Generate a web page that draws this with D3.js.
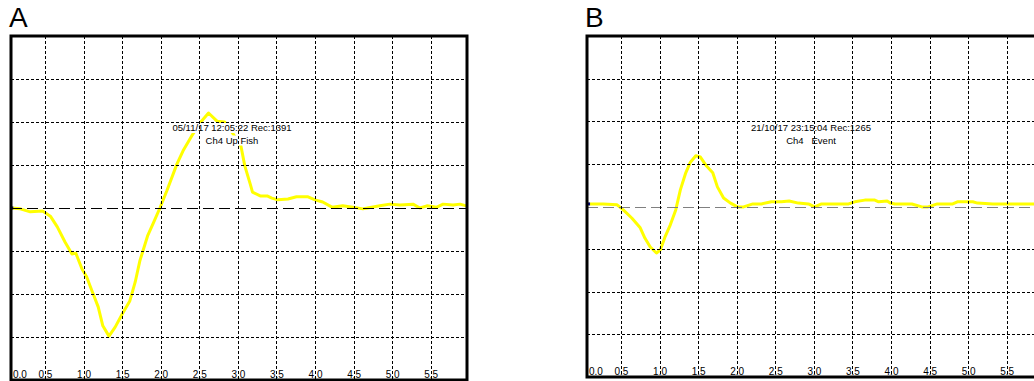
<!DOCTYPE html>
<html>
<head>
<meta charset="utf-8">
<script src="https://cdn.jsdelivr.net/npm/d3@7"></script>
<style>
body { margin: 0; background: #fff; }
svg { display: block; }
text { font-family: "Liberation Sans", Arial, sans-serif; }
</style>
</head>
<body>
<svg width="1034" height="381"></svg>
<script>
// tick labels of the time axis (s)
const xTicks = [0.0, 0.5, 1.0, 1.5, 2.0, 2.5, 3.0, 3.5, 4.0, 4.5, 5.0, 5.5];
// horizontal grid divisions
const yTicks = [-3, -2, -1, 0, 1, 2, 3];

// trace A
const timeA = [0.07, 0.18, 0.31, 0.47, 0.57, 0.66, 0.76, 0.85, 0.90, 0.98, 1.04, 1.11, 1.19, 1.25, 1.33, 1.41,
	1.50, 1.60, 1.67, 1.73, 1.83, 1.91, 1.99, 2.08, 2.21, 2.29, 2.40, 2.52, 2.62, 2.73, 2.83, 2.94,
	3.04, 3.09, 3.16, 3.19, 3.29, 3.38, 3.44, 3.52, 3.65, 3.76, 3.91, 4.00, 4.10, 4.22, 4.36, 4.49,
	4.62, 4.68, 4.84, 4.97, 5.10, 5.27, 5.36, 5.45, 5.58, 5.66, 5.79, 5.88, 5.96];
const valueA = [0.00, -0.02, -0.09, -0.07, -0.19, -0.44, -0.79, -1.07, -1.05, -1.42, -1.60, -1.93, -2.30, -2.74, -2.98, -2.77,
	-2.47, -2.16, -1.72, -1.23, -0.65, -0.33, 0.00, 0.40, 1.02, 1.33, 1.67, 2.00, 2.21, 2.02, 2.00, 1.72,
	1.44, 0.98, 0.56, 0.37, 0.28, 0.28, 0.23, 0.19, 0.21, 0.26, 0.26, 0.19, 0.14, 0.02, 0.05, 0.02,
	-0.02, 0.00, 0.05, 0.09, 0.07, 0.09, 0.00, 0.05, 0.02, 0.09, 0.07, 0.09, 0.05];
const labelA = ["05/11/17 12:05:22 Rec:1391", "Ch4 Up Fish"];

// trace B
const timeB = [0.08, 0.27, 0.45, 0.53, 0.64, 0.75, 0.81, 0.88, 0.96, 1.01, 1.07, 1.14, 1.21, 1.27, 1.34, 1.40,
	1.47, 1.53, 1.60, 1.69, 1.75, 1.83, 1.92, 2.01, 2.09, 2.21, 2.32, 2.45, 2.58, 2.68, 2.80, 2.93,
	3.01, 3.10, 3.45, 3.53, 3.66, 3.79, 3.84, 3.95, 3.99, 4.05, 4.27, 4.40, 4.48, 4.60, 4.80, 4.86,
	5.06, 5.12, 5.32, 5.58, 5.96];
const valueB = [0.06, 0.06, 0.04, -0.08, -0.27, -0.50, -0.74, -0.95, -1.09, -1.02, -0.72, -0.43, -0.08, 0.39, 0.79, 1.04,
	1.19, 1.16, 0.97, 0.79, 0.46, 0.20, 0.08, -0.01, -0.01, 0.06, 0.06, 0.11, 0.11, 0.13, 0.08, 0.06,
	-0.01, 0.06, 0.06, 0.11, 0.15, 0.15, 0.11, 0.13, 0.08, 0.06, 0.06, -0.01, -0.01, 0.06, 0.06, 0.11,
	0.11, 0.08, 0.06, 0.06, 0.06];
const labelB = ["21/10/17 23:15:04 Rec:1265", "Ch4   Event"];

const svg = d3.select('svg');

function drawPanel(title, times, values, notes, box) {
	svg.append('text')
		.attr('x', box.left - 2)
		.attr('y', 27)
		.attr('font-size', '28px')
		.text(title);

	const g = svg.append('g').attr('transform', `translate(${box.left},${box.top})`);

	const x = d3.scaleLinear().domain([0.06, 5.97]).range([0, box.width]);
	const y = d3.scaleLinear().domain([-4, 4]).range([box.height, 0]);

	g.append('clipPath').attr('id', 'clip' + title)
		.append('rect').attr('width', box.width).attr('height', box.height);

	const pts = times.map((t, i) => [t, values[i]]);
	const line = d3.line().x(d => x(d[0])).y(d => y(d[1]));

	// trace
	g.append('path')
		.attr('clip-path', `url(#clip${title})`)
		.attr('d', line(pts))
		.style('fill', 'none')
		.style('stroke', '#ffff00')
		.style('stroke-width', 3)
		.style('stroke-linejoin', 'round');

	g.append('rect')
		.attr('x', x(pts[0][0]) - 1.5)
		.attr('y', y(pts[0][1]) - 1.5)
		.attr('width', 3)
		.attr('height', 3)
		.style('fill', '#000080');

	// annotation, opaque background like the recorder software
	notes.forEach((s, i) => {
		const t = g.append('text')
			.attr('x', box.noteX)
			.attr('y', box.noteY + i * 12.5)
			.attr('text-anchor', 'middle')
			.attr('font-size', '9.5px')
			.style('white-space', 'pre')
			.text(s);
		const bb = t.node().getBBox();
		g.insert('rect', () => t.node())
			.attr('x', bb.x)
			.attr('y', bb.y + 1)
			.attr('width', bb.width)
			.attr('height', bb.height - 1)
			.style('fill', '#fff');
	});

	// grid on top of the trace
	g.selectAll('.hgrid')
		.data(yTicks)
		.enter()
		.append('line')
		.attr('x1', 0)
		.attr('x2', box.width)
		.attr('y1', d => Math.round(y(d)) + 0.5)
		.attr('y2', d => Math.round(y(d)) + 0.5)
		.style('stroke', d => d === 0 ? box.centerColor : '#000')
		.style('stroke-width', 1)
		.style('stroke-dasharray', d => d === 0 ? '11,5' : '3,2');

	g.selectAll('.vgrid')
		.data(xTicks.slice(1))
		.enter()
		.append('line')
		.attr('x1', d => Math.round(x(d)) + 0.5)
		.attr('x2', d => Math.round(x(d)) + 0.5)
		.attr('y1', 0)
		.attr('y2', box.height)
		.style('stroke', '#000')
		.style('stroke-width', 1)
		.style('stroke-dasharray', '3,2');

	// tick labels inside the bottom edge
	const axis = g.append('g')
		.attr('transform', `translate(0,${box.height})`)
		.call(d3.axisBottom(x).tickValues(xTicks).tickSize(0).tickFormat(d3.format('.1f')));
	axis.select('.domain').remove();
	axis.selectAll('text')
		.attr('y', -2.5)
		.attr('dy', 0)
		.attr('font-size', '10px')
		.style('fill', '#000');
	axis.selectAll('.tick').filter(d => d === 0).select('text')
		.attr('text-anchor', 'start')
		.attr('x', -x(0) + 1.5);

	// frame
	g.append('rect')
		.attr('width', box.width)
		.attr('height', box.height)
		.style('fill', 'none')
		.style('stroke', '#000')
		.style('stroke-width', 3);
}

drawPanel('A', timeA, valueA, labelA, {left: 11, top: 36, width: 456, height: 344, noteX: 221, noteY: 95, centerColor: '#000'});
drawPanel('B', timeB, valueB, labelB, {left: 587, top: 36, width: 456, height: 341, noteX: 224, noteY: 95, centerColor: '#808080'});
</script>
</body>
</html>
